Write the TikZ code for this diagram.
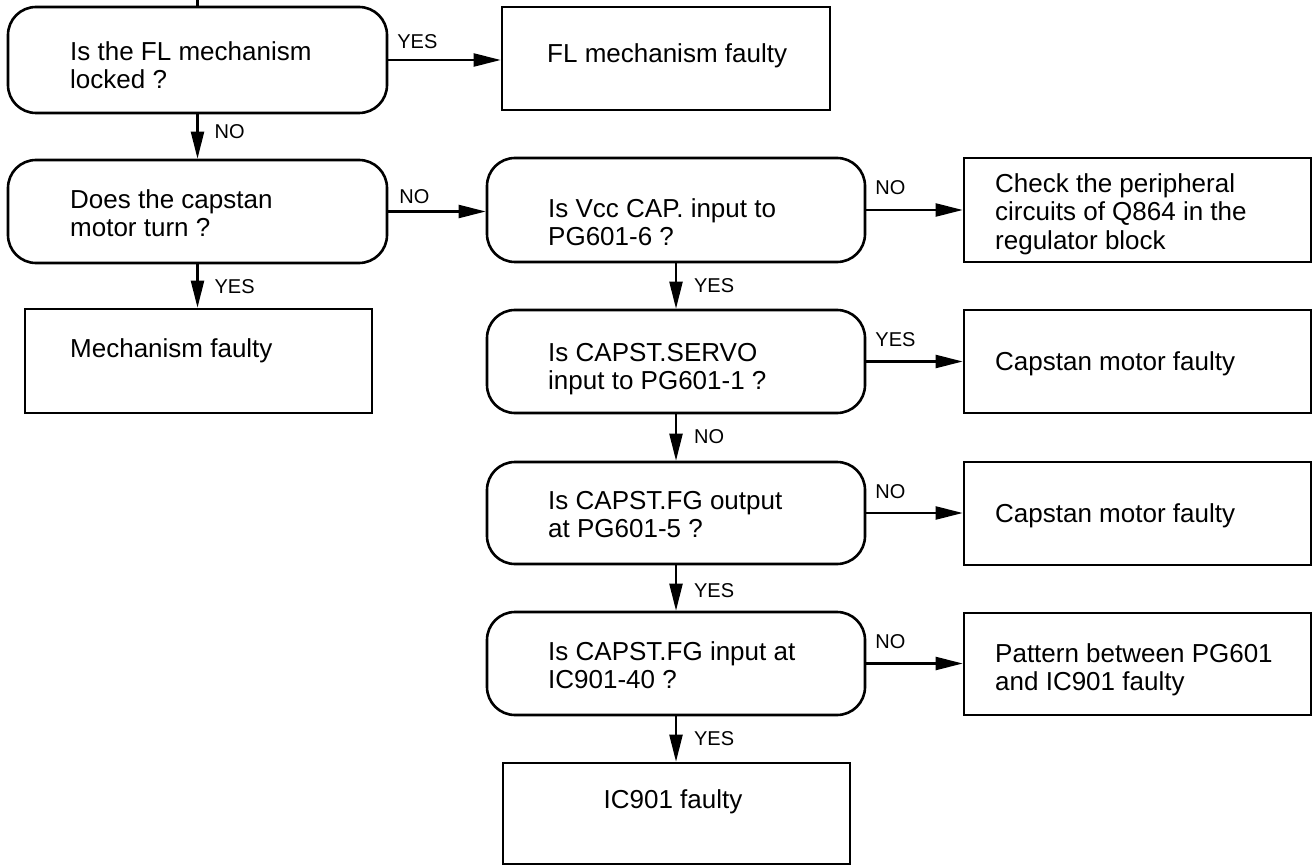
\documentclass[tikz,border=0pt]{standalone}
\usepackage{fontspec}
\setmainfont{Liberation Sans}
\usetikzlibrary{arrows.meta}
\begin{document}
\begin{tikzpicture}[x=1pt,y=-1pt,
  dec/.style={draw, line width=2.6pt, rounded corners=28pt, inner sep=0pt},
  res/.style={draw, line width=2.6pt, inner sep=0pt},
  txt/.style={font=\fontsize{26}{28.5}\selectfont, inner sep=0pt, align=left},
  lbl/.style={font=\fontsize{20}{22}\selectfont, inner sep=0pt},
  arr/.style={line width=2.2pt, -{Triangle[length=27pt,width=13pt]}},
  hl/.style={lbl, pos=0, anchor=base west, xshift=8pt, yshift=15pt},
  vl/.style={lbl, pos=0, anchor=base west, xshift=17pt, yshift=-29pt},
]
\useasboundingbox (0,0) rectangle (1316,866);

% boxes
\node[dec, minimum width=379pt, minimum height=106pt] (b1) at (197.5,60) {};
\node[res, minimum width=328pt, minimum height=103pt] (r1) at (666,58.5) {};
\node[dec, minimum width=379pt, minimum height=103pt] (b2) at (197.5,211.5) {};
\node[res, minimum width=347pt, minimum height=104pt] (r2) at (198.5,361) {};
\node[dec, minimum width=378pt, minimum height=104pt] (b3) at (676,210) {};
\node[res, minimum width=347pt, minimum height=104pt] (r3) at (1137.5,210) {};
\node[dec, minimum width=378pt, minimum height=103pt] (b5) at (676,361.5) {};
\node[res, minimum width=347pt, minimum height=103pt] (r5) at (1137.5,361.5) {};
\node[dec, minimum width=378pt, minimum height=102pt] (b7) at (676,513) {};
\node[res, minimum width=347pt, minimum height=103pt] (r7) at (1137.5,513.5) {};
\node[dec, minimum width=378pt, minimum height=103pt] (b9) at (676,663.5) {};
\node[res, minimum width=347pt, minimum height=102pt] (r9) at (1137.5,664) {};
\node[res, minimum width=347pt, minimum height=101pt] (r11) at (676.5,813.5) {};

% texts
\node[txt, anchor=north west] (t1) at (70,41) {Is the FL mechanism\\locked ?};
\node[txt, anchor=base west] (tr1) at (547,63) {FL mechanism faulty};
\node[txt, anchor=north west] (t2) at (70,189) {Does the capstan\\motor turn ?};
\node[txt, anchor=base west] (tr2) at (70,357) {Mechanism faulty};
\node[txt, anchor=north west] (t3) at (548,198) {Is Vcc CAP. input to\\PG601-6 ?};
\node[txt, anchor=north west] (tr3) at (995,173) {Check the peripheral\\circuits of Q864 in the\\regulator block};
\node[txt, anchor=north west] (t5) at (548,343) {Is CAPST.SERVO\\input to PG601-1 ?};
\node[txt, anchor=base west] (tr5) at (995,370) {Capstan motor faulty};
\node[txt, anchor=north west] (t7) at (548,491) {Is CAPST.FG output\\at PG601-5 ?};
\node[txt, anchor=base west] (tr7) at (995,522) {Capstan motor faulty};
\node[txt, anchor=north west] (t9) at (548,641) {Is CAPST.FG input at\\IC901-40 ?};
\node[txt, anchor=north west] (tr9) at (995,643) {Pattern between PG601\\and IC901 faulty};
\node[txt, anchor=base] (tr11) at (673,808) {IC901 faulty};

% connectors
\coordinate (in) at (197.5,0);
\draw[line width=2.2pt] (in) -- (b1.north);
\draw[arr] (b1.east) -- (b1.east -| r1.west)
  node[hl, yshift=-4pt] (l1) {YES};
\draw[arr] (b1.south) -- (b1.south |- b2.north)
  node[vl, xshift=-1pt, yshift=5pt] (l2) {NO};
\draw[arr] (b2.east) -- (b2.east -| b3.west)
  node[hl, xshift=2pt, yshift=-7pt] (l3) {NO};
\draw[arr] (b2.south) -- (b2.south |- r2.north)
  node[vl, xshift=-1pt] (l4) {YES};
\draw[arr] (b3.east) -- (b3.east -| r3.west)
  node[hl] (l5) {NO};
\draw[arr] (b3.south) -- (b3.south |- b5.north)
  node[vl] (l6) {YES};
\draw[arr] (b5.east) -- (b5.east -| r5.west)
  node[hl] (l7) {YES};
\draw[arr] (b5.south) -- (b5.south |- b7.north)
  node[vl] (l8) {NO};
\draw[arr] (b7.east) -- (b7.east -| r7.west)
  node[hl] (l9) {NO};
\draw[arr] (b7.south) -- (b7.south |- b9.north)
  node[vl, yshift=-3pt] (l10) {YES};
\draw[arr] (b9.east) -- (b9.east -| r9.west)
  node[hl] (l11) {NO};
\draw[arr] (b9.south) -- (b9.south |- r11.north)
  node[vl] (l12) {YES};
\end{tikzpicture}
\end{document}
